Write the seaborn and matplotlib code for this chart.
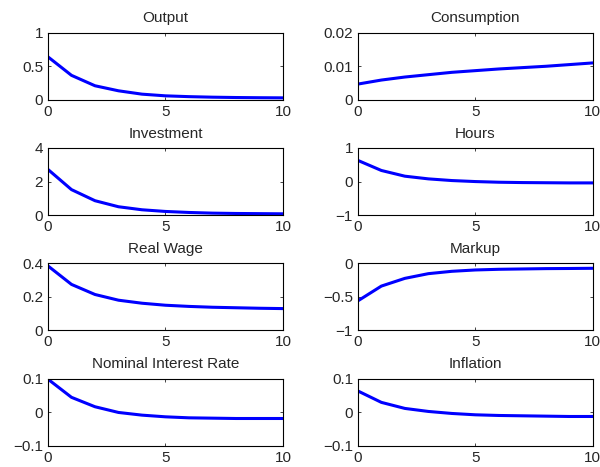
import numpy as np
import pandas as pd
import seaborn as sns
import matplotlib.pyplot as plt

# impulse responses, periods 0..10
periods = list(range(11))
output = [0.64, 0.365, 0.21, 0.135, 0.085, 0.06, 0.048, 0.04, 0.035, 0.032, 0.03]
consumption = [0.0047, 0.0059, 0.0068, 0.0075, 0.0082, 0.0087, 0.0092, 0.0096, 0.0100, 0.0105, 0.0110]
investment = [2.72, 1.52, 0.86, 0.5, 0.32, 0.22, 0.16, 0.12, 0.1, 0.09, 0.08]
hours = [0.63, 0.33, 0.16, 0.08, 0.03, 0.0, -0.02, -0.03, -0.035, -0.04, -0.04]
real_wage = [0.384, 0.274, 0.214, 0.18, 0.162, 0.15, 0.143, 0.138, 0.135, 0.132, 0.13]
markup = [-0.56, -0.34, -0.225, -0.155, -0.12, -0.1, -0.09, -0.085, -0.08, -0.078, -0.075]
interest = [0.098, 0.044, 0.016, -0.001, -0.009, -0.014, -0.017, -0.018, -0.019, -0.019, -0.019]
inflation = [0.063, 0.029, 0.011, 0.002, -0.004, -0.008, -0.010, -0.011, -0.012, -0.013, -0.013]

titles = ["Output", "Consumption", "Investment", "Hours",
          "Real Wage", "Markup", "Nominal Interest Rate", "Inflation"]
series = [output, consumption, investment, hours,
          real_wage, markup, interest, inflation]
ylims = [(0, 1), (0, 0.02), (0, 4), (-1, 1),
         (0, 0.4), (-1, 0), (-0.1, 0.1), (-0.1, 0.1)]
yticks = [[0, 0.5, 1], [0, 0.01, 0.02], [0, 2, 4], [-1, 0, 1],
          [0, 0.2, 0.4], [-1, -0.5, 0], [-0.1, 0, 0.1], [-0.1, 0, 0.1]]
yticklabels = [["0", "0.5", "1"], ["0", "0.01", "0.02"], ["0", "2", "4"],
               ["\u22121", "0", "1"], ["0", "0.2", "0.4"],
               ["\u22121", "\u22120.5", "0"], ["\u22120.1", "0", "0.1"],
               ["\u22120.1", "0", "0.1"]]

sns.set_style("ticks")
plt.rcParams["font.family"] = ["Liberation Sans", "DejaVu Sans"]

fig, axes = plt.subplots(4, 2, figsize=(6, 4.67), dpi=100)
fig.subplots_adjust(left=0.08, right=0.988, top=0.930, bottom=0.0456,
                    wspace=0.319, hspace=0.716)

for ax, title, vals, yl, yt, ytl in zip(axes.flat, titles, series, ylims,
                                        yticks, yticklabels):
    df = pd.DataFrame({"t": periods, "v": vals})
    sns.lineplot(data=df, x="t", y="v", ax=ax, color=(0, 0, 1), linewidth=2.2)
    ax.set_xlim(0, 10)
    ax.set_ylim(*yl)
    ax.set_xticks([0, 5, 10])
    ax.set_yticks(yt)
    ax.set_yticklabels(ytl)
    ax.set_xlabel("")
    ax.set_ylabel("")
    ax.set_title(title, fontsize=11, pad=7.5)
    ax.tick_params(direction="in", top=True, right=True, length=2.5,
                   width=0.6, labelsize=11)
    ax.tick_params(axis="x", pad=3.5)
    ax.tick_params(axis="y", pad=3.5)
    for sp in ax.spines.values():
        sp.set_linewidth(0.8)
        sp.set_color("black")

fig.savefig("out.png", dpi=100)
